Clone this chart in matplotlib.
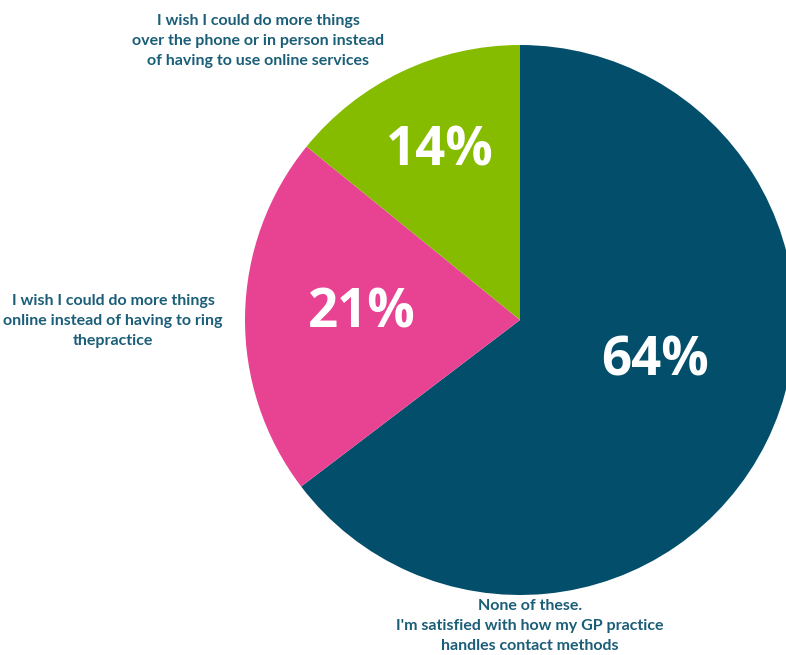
import matplotlib.pyplot as plt

# data
labels = [
    "None of these.\nI'm satisfied with how my GP practice\nhandles contact methods",
    "I wish I could do more things\nonline instead of having to ring\nthepractice",
    "I wish I could do more things\nover the phone or in person instead\nof having to use online services",
]
values = [64, 21, 14]
colors = ["#034F6B", "#E84393", "#86BC00"]

W, H = 786, 655
fig = plt.figure(figsize=(W / 100, H / 100), dpi=100)
ax = fig.add_axes([0, 0, 1, 1])

cx, cy, r = 520, 335, 275
wedges, _ = ax.pie(values, colors=colors, startangle=90, counterclock=False,
                   center=(cx, cy), radius=r, frame=True)
ax.set_xlim(0, W)
ax.set_ylim(0, H)
ax.set_aspect("equal")
ax.axis("off")

# percentage labels inside the slices
pct_pos = [(655, 293), (362, 342), (440, 503)]
for v, (x, y) in zip(values, pct_pos):
    ax.text(x, y, f"{v}%", color="white", fontsize=38, fontweight="bold",
            family="Open Sans", ha="center", va="center")

# category labels outside
label_pos = [(530, 29), (113, 334), (258, 614)]
text_color = "#1B5E78"
for lab, (x, y) in zip(labels, label_pos):
    ax.text(x, y, lab, color=text_color, fontsize=11.5, fontweight="bold",
            family="Lato", ha="center", va="center", linespacing=1.5)

fig.savefig("out.png", dpi=100)
